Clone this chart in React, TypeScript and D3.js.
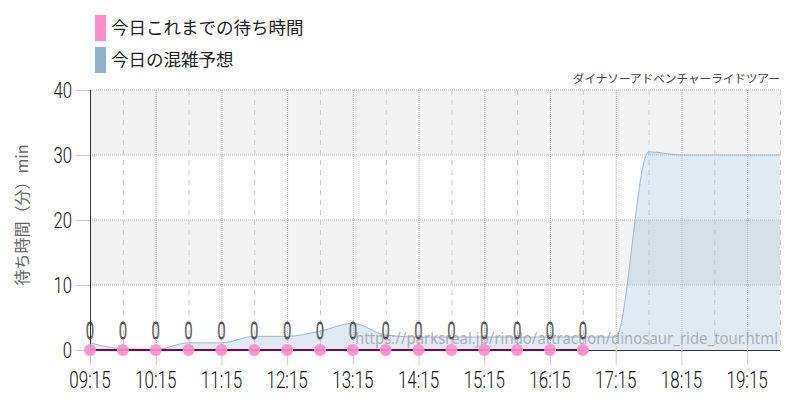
import * as d3 from 'd3';

// 30-minute slots for the whole day
const slots = [
  '09:15', '09:45', '10:15', '10:45', '11:15', '11:45', '12:15', '12:45',
  '13:15', '13:45', '14:15', '14:45', '15:15', '15:45', '16:15', '16:45',
  '17:15', '17:45', '18:15', '18:45', '19:15', '19:45',
];
// today's forecast (blue area)
const forecast = [
  1.1, 0.2, 0.1, 1.1, 1.1, 2.1, 2.1, 2.9,
  4.1, 2.3, 2, 2, 2, 2, 2, 2,
  2, 30.5, 30, 30, 30, 30,
];
// today's actual waits so far (pink)
const actualSlots = slots.slice(0, 16);
const actual = [0, 0, 0, 0, 0, 0, 0, 0, 0, 0, 0, 0, 0, 0, 0, 0];
const hourTicks = ['09:15', '10:15', '11:15', '12:15', '13:15', '14:15', '15:15', '16:15', '17:15', '18:15', '19:15'];
const yTicks = [0, 10, 20, 30, 40];

const legendItems = [
  { label: '今日これまでの待ち時間', color: '#ff8ccb' },
  { label: '今日の混雑予想', color: '#90b2cf' },
];
const title = 'ダイナソーアドベンチャーライドツアー';
const yTitle = '待ち時間（分）min';
const url = 'https://parksreal.jp/rindo/attraction/dinosaur_ride_tour.html';

const parse = d3.timeParse('%H:%M');
const fmt = d3.timeFormat('%H:%M');

const W = 800, H = 400;
const m = { top: 90, right: 20, bottom: 50, left: 90 };
const cond = "'Roboto', 'Liberation Sans', sans-serif";
const jp = "'Noto Sans CJK JP', sans-serif";

export default function App() {
  const x = d3.scaleTime()
    .domain([parse('09:15') as Date, parse('19:45') as Date])
    .range([m.left, W - m.right]);
  const y = d3.scaleLinear().domain([0, 40]).range([H - m.bottom, m.top]);

  const area = d3.area<number>()
    .x((_, i) => x(parse(slots[i]) as Date))
    .y0(y(0))
    .y1(d => y(d))
    .curve(d3.curveMonotoneX);
  const topLine = area.lineY1();

  const actualLine = d3.line<number>()
    .x((_, i) => x(parse(actualSlots[i]) as Date))
    .y(d => y(d));

  const x0 = m.left, x1 = W - m.right, yb = y(0);

  return (
    <svg width={W} height={H} style={{ position: 'absolute', left: 0, top: 0, background: '#fff' }}>
      {/* alternating bands */}
      {yTicks.slice(0, -1).map((t, i) => (
        <rect key={t} x={x0} y={y(t + 10)} width={x1 - x0} height={y(t) - y(t + 10)}
          fill={i % 2 === 1 ? '#f2f2f2' : '#fff'} />
      ))}
      {/* horizontal grid */}
      {yTicks.slice(1).map(t => (
        <line key={t} x1={x0} x2={x1 + 1} y1={y(t)} y2={y(t)} stroke="#bbb" strokeDasharray="1,1" />
      ))}
      {/* vertical grid: hours dotted, half hours dashed */}
      {slots.slice(1).map(s => {
        const isHour = hourTicks.includes(s);
        return (
          <line key={s} x1={x(parse(s) as Date) + 0.5} x2={x(parse(s) as Date) + 0.5} y1={m.top} y2={yb}
            stroke={isHour ? '#bbb' : '#ccc'} strokeDasharray={isHour ? '1,1' : '5,5'} />
        );
      })}
      {/* forecast area */}
      <path d={area(forecast) ?? ''} fill="rgba(143,178,210,0.28)" />
      <path d={topLine(forecast) ?? ''} fill="none" stroke="#9ab9d4" strokeWidth={1} />

      {/* watermark */}
      <text x={778} y={344} textAnchor="end" fontFamily="'Noto Sans', sans-serif" fontSize={16.5}
        fill="#999" fillOpacity={0.75} textLength={423} lengthAdjust="spacingAndGlyphs">{url}</text>

      {/* axes */}
      <line x1={x0} x2={x1} y1={yb + 0.5} y2={yb + 0.5} stroke="#333" />
      <line x1={x0 + 0.5} x2={x0 + 0.5} y1={m.top} y2={yb} stroke="#333" />
      {hourTicks.map(s => {
        const px = x(parse(s) as Date);
        return (
          <g key={s}>
            <line x1={px + 0.5} x2={px + 0.5} y1={yb} y2={yb + 15} stroke="#ccc" />
            <g transform={`translate(${px},388) scale(0.74,1)`}>
              <text textAnchor="middle" fontFamily={cond} fontWeight={300} fontSize={23} fill="#111">{fmt(parse(s) as Date)}</text>
            </g>
          </g>
        );
      })}
      {yTicks.map(t => (
        <g key={t}>
          <line x1={76} x2={x0} y1={y(t) + 0.5} y2={y(t) + 0.5} stroke="#ccc" />
          <g transform={`translate(72,${y(t) + 8}) scale(0.76,1)`}>
            <text textAnchor="end" fontFamily={cond} fontWeight={300} fontSize={22} fill="#111">{t}</text>
          </g>
        </g>
      ))}
      <text transform={`translate(28,215) rotate(-90)`} textAnchor="middle" fontFamily={jp}
        fontSize={16} fill="#666">{yTitle}</text>

      {/* actual waits */}
      <path d={actualLine(actual) ?? ''} fill="none" stroke="#800045" strokeWidth={2} />
      {actual.map((v, i) => (
        <circle key={i} cx={x(parse(actualSlots[i]) as Date)} cy={y(v)} r={6} fill="#ff8ccb" fillOpacity={0.9} />
      ))}
      {actual.map((v, i) => (
        <g key={'l' + i} transform={`translate(${x(parse(actualSlots[i]) as Date)},${y(v) - 11}) scale(0.62,1)`}>
          <text textAnchor="middle" fontFamily={cond} fontWeight={300} fontSize={23}
            fill="#e6e6e6" stroke="#333" strokeWidth={0.9}>{v}</text>
        </g>
      ))}

      {/* title */}
      <text x={780} y={83} textAnchor="end" fontFamily={jp} fontSize={11.6} fill="#444">{title}</text>

      {/* legend */}
      {legendItems.map((d, i) => (
        <g key={d.label} transform={`translate(95,${15 + i * 32})`}>
          <rect width={11} height={26} fill={d.color} />
          <text x={16} y={19} fontFamily={jp} fontSize={17.5} fill="#222">{d.label}</text>
        </g>
      ))}
    </svg>
  );
}
